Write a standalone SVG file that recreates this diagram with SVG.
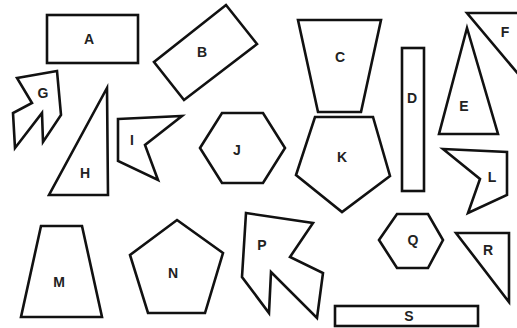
<svg xmlns="http://www.w3.org/2000/svg" width="517" height="328" viewBox="0 0 517 328">
<style>
.s{fill:#fff;stroke:#111;stroke-width:2.6;stroke-linejoin:miter}
.t{font-family:"Liberation Sans",Arial,sans-serif;font-weight:bold;font-size:14px;fill:#222;text-anchor:middle;dominant-baseline:central}
</style>
<rect width="517" height="328" fill="#fff"/>
<g id="F"><polygon class="s" points="467,13 540,13 540,100"/><text class="t" x="505" y="32">F</text></g>
<g id="A"><rect class="s" x="47" y="15" width="91" height="48"/><text class="t" x="89" y="39">A</text></g>
<g id="B"><polygon class="s" points="226,5 257,44 184,100 154,62"/><text class="t" x="202" y="52">B</text></g>
<g id="C"><polygon class="s" points="298,20 381,20 361,112 318,112"/><text class="t" x="340" y="57">C</text></g>
<g id="D"><rect class="s" x="402" y="48" width="22" height="143"/><text class="t" x="412" y="98">D</text></g>
<g id="E"><polygon class="s" points="467,28 498,134 439,134"/><text class="t" x="464" y="106">E</text></g>
<g id="G"><polygon class="s" points="17,78 57,71 61,115 43,142 42,113 15,148 13,113 32,103"/><text class="t" x="43" y="93">G</text></g>
<g id="H"><polygon class="s" points="107,88 108,195 49,195"/><text class="t" x="85" y="173">H</text></g>
<g id="I"><polygon class="s" points="118,119 182,116 145,145 158,180 118,161"/><text class="t" x="132" y="140">I</text></g>
<g id="J"><polygon class="s" points="200,148 222,113 263,113 285,148 263,183 222,183"/><text class="t" x="237" y="150">J</text></g>
<g id="K"><polygon class="s" points="315,117 373,117 390,176 342,212 296,175"/><text class="t" x="342" y="157">K</text></g>
<g id="L"><polygon class="s" points="443,149 507,152 507,195 468,213 480,179"/><text class="t" x="492" y="177">L</text></g>
<g id="M"><polygon class="s" points="41,226 82,226 102,317 21,317"/><text class="t" x="59" y="282">M</text></g>
<g id="N"><polygon class="s" points="177,220 223,253 205,313 148,313 130,255"/><text class="t" x="173" y="273">N</text></g>
<g id="P"><polygon class="s" points="246,213 313,223 290,257 323,273 317,318 271,272 269,313 242,277"/><text class="t" x="262" y="245">P</text></g>
<g id="Q"><polygon class="s" points="379,240 397,214 428,214 443,240 428,268 397,268"/><text class="t" x="413" y="240">Q</text></g>
<g id="R"><polygon class="s" points="456,233 509,233 509,302"/><text class="t" x="488" y="250">R</text></g>
<g id="S"><rect class="s" x="335" y="306" width="143" height="20"/><text class="t" x="409" y="316">S</text></g>
</svg>
